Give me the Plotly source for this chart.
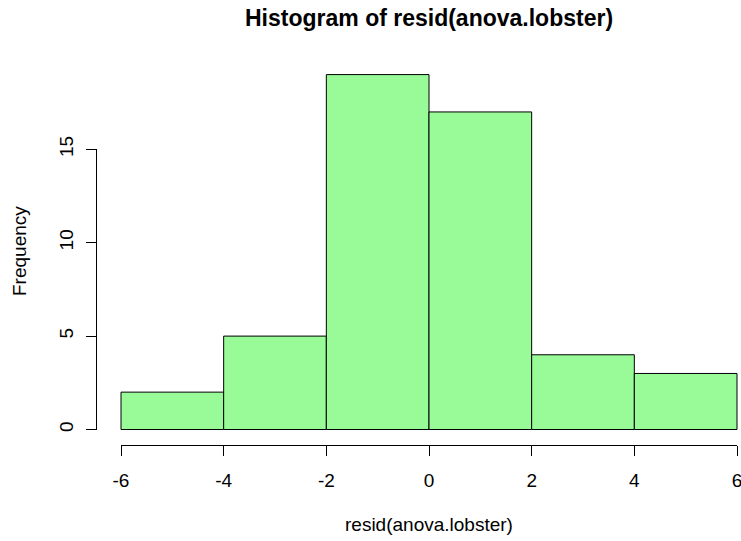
import plotly.graph_objects as go

bin_edges = [-6, -4, -2, 0, 2, 4, 6]
counts = [2, 5, 19, 17, 4, 3]
x_ticks = [-6, -4, -2, 0, 2, 4, 6]
y_ticks = [0, 5, 10, 15]

W, H = 741, 541
centers = [(bin_edges[i] + bin_edges[i + 1]) / 2 for i in range(len(counts))]
widths = [bin_edges[i + 1] - bin_edges[i] for i in range(len(counts))]

# pixel geometry of R plot
x_lo_px, x_hi_px = 121, 737
y0_px, y15_px = 429.5, 149.3
xppu = (x_hi_px - x_lo_px) / (x_ticks[-1] - x_ticks[0])
yppu = (y0_px - y15_px) / 15.0
xr = [x_ticks[0] - x_lo_px / xppu, x_ticks[-1] + (W - x_hi_px) / xppu]
yr = [-(H - y0_px) / yppu, y0_px / yppu]

font = "Liberation Sans, Arial, sans-serif"
fs = 19

fig = go.Figure()
fig.add_trace(go.Bar(
    x=centers, y=counts, width=widths,
    marker=dict(color="#98FB98", line=dict(color="black", width=1)),
    xaxis="x", yaxis="y", hoverinfo="x+y",
))
# invisible trace to activate the visible axes
fig.add_trace(go.Scatter(x=[x_ticks[0], x_ticks[-1]], y=[y_ticks[0], y_ticks[-1]], mode="markers",
                         marker=dict(opacity=0), xaxis="x2", yaxis="y2",
                         hoverinfo="skip", showlegend=False))

fig.update_layout(
    width=W, height=H,
    margin=dict(l=0, r=0, t=0, b=0, pad=0, autoexpand=False),
    paper_bgcolor="white", plot_bgcolor="rgba(0,0,0,0)",
    showlegend=False,
    font=dict(family=font, color="black", size=fs),
    xaxis=dict(range=xr, domain=[0, 1], visible=False, fixedrange=True, automargin=False),
    yaxis=dict(range=yr, domain=[0, 1], visible=False, fixedrange=True, automargin=False),
    xaxis2=dict(
        range=[x_ticks[0] - 1e-6, x_ticks[-1] + 1e-6],
        domain=[x_lo_px / W, x_hi_px / W],
        anchor="free", position=1 - 444.5 / H, automargin=False,
        showline=True, linecolor="black", linewidth=1,
        ticks="outside", ticklen=10, tickwidth=1, tickcolor="black",
        tickvals=x_ticks, ticktext=[str(t) for t in x_ticks],
        ticklabelstandoff=9, ticklabeloverflow="allow",
        showgrid=False, zeroline=False,
        tickfont=dict(size=fs, family=font), fixedrange=True,
    ),
    yaxis2=dict(
        range=[y_ticks[0] - 1e-6, y_ticks[-1] + 1e-6],
        domain=[1 - y0_px / H, 1 - y15_px / H],
        anchor="free", position=96 / W, automargin=False,
        showline=True, linecolor="black", linewidth=1,
        ticks="outside", ticklen=10, tickwidth=1, tickcolor="black",
        tickvals=y_ticks, ticktext=[str(t) for t in y_ticks],
        tickangle=-90, ticklabelstandoff=5, ticklabeloverflow="allow",
        showgrid=False, zeroline=False,
        tickfont=dict(size=fs, family=font), fixedrange=True,
    ),
    annotations=[
        dict(text="<b>Histogram of resid(anova.lobster)</b>", x=429 / W, y=1 - 18 / H,
             xref="paper", yref="paper", showarrow=False, xanchor="center", yanchor="middle",
             font=dict(size=23, family=font)),
        dict(text="resid(anova.lobster)", x=429 / W, y=1 - 524 / H,
             xref="paper", yref="paper", showarrow=False, xanchor="center", yanchor="middle",
             font=dict(size=fs, family=font)),
        dict(text="Frequency", x=19 / W, y=1 - 251 / H, textangle=-90,
             xref="paper", yref="paper", showarrow=False, xanchor="center", yanchor="middle",
             font=dict(size=fs, family=font)),
    ],
)

fig.write_html("out.html")
